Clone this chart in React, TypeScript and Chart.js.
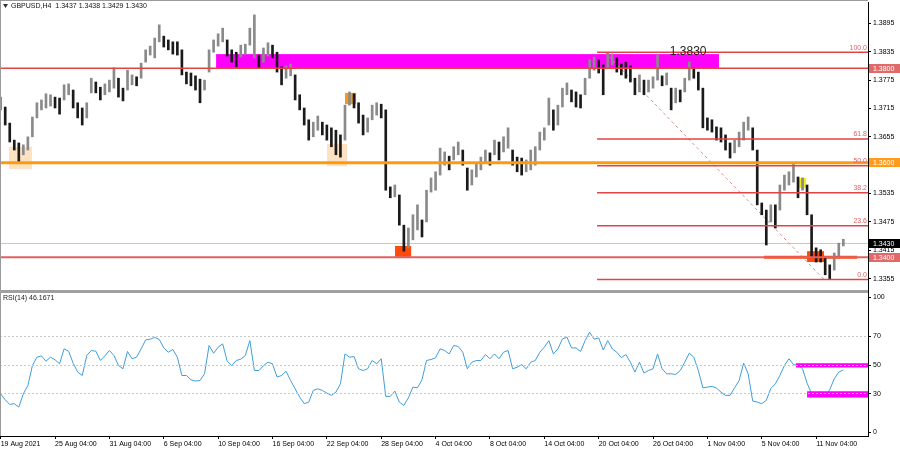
import { useEffect, useRef } from 'react';
import { Chart, registerables } from 'chart.js';

Chart.register(...registerables);

const FONT = "'Liberation Sans', Arial, sans-serif";

// ---- data (one sample per 2 H4 bars, 19 Aug – 12 Nov 2021) ----
const highs = [
  1.3739, 1.3718, 1.3684, 1.3648, 1.3642, 1.3638, 1.3655, 1.3697, 1.3727, 1.3733,
  1.3746, 1.3744, 1.3739, 1.3737, 1.3765, 1.3767, 1.3754, 1.3727, 1.3716, 1.3727,
  1.3779, 1.3771, 1.3760, 1.3767, 1.3775, 1.3801, 1.3779, 1.3758, 1.3796, 1.3786,
  1.3782, 1.3811, 1.3839, 1.3847, 1.3864, 1.3892, 1.3868, 1.3860, 1.3856, 1.3856,
  1.3839, 1.3792, 1.3790, 1.3784, 1.3777, 1.3775, 1.3839, 1.3860, 1.3873, 1.3885,
  1.3860, 1.3839, 1.3834, 1.3849, 1.3851, 1.3885, 1.3913, 1.3828, 1.3843, 1.3854,
  1.3849, 1.3834, 1.3803, 1.3805, 1.3809, 1.3786, 1.3744, 1.3716, 1.3691, 1.3686,
  1.3699, 1.3686, 1.3680, 1.3674, 1.3669, 1.3659, 1.3722, 1.3750, 1.3746, 1.3727,
  1.3701, 1.3695, 1.3722, 1.3727, 1.3724, 1.3712, 1.3549, 1.3553, 1.3532, 1.3468,
  1.3462, 1.3490, 1.3511, 1.3479, 1.3542, 1.3568, 1.3581, 1.3631, 1.3623, 1.3614,
  1.3634, 1.3644, 1.3627, 1.3589, 1.3585, 1.3600, 1.3612, 1.3627, 1.3621, 1.3648,
  1.3644, 1.3655, 1.3674, 1.3627, 1.3612, 1.3610, 1.3606, 1.3627, 1.3634, 1.3665,
  1.3674, 1.3737, 1.3712, 1.3722, 1.3758, 1.3769, 1.3754, 1.3750, 1.3744, 1.3779,
  1.3818, 1.3824, 1.3818, 1.3807, 1.3834, 1.3830, 1.3822, 1.3809, 1.3813, 1.3805,
  1.3779, 1.3786, 1.3775, 1.3775, 1.3782, 1.3828, 1.3784, 1.3790, 1.3758, 1.3758,
  1.3754, 1.3779, 1.3813, 1.3801, 1.3792, 1.3758, 1.3695, 1.3691, 1.3676, 1.3674,
  1.3659, 1.3642, 1.3648, 1.3665, 1.3686, 1.3697, 1.3674, 1.3627, 1.3515, 1.3500,
  1.3511, 1.3511, 1.3553, 1.3574, 1.3581, 1.3600, 1.3570, 1.3568, 1.3553, 1.3490,
  1.3420, 1.3416, 1.3399, 1.3384, 1.3409, 1.3430, 1.3438,
];
const lows = [
  1.3712, 1.3680, 1.3644, 1.3627, 1.3602, 1.3617, 1.3627, 1.3655, 1.3695, 1.3712,
  1.3716, 1.3720, 1.3716, 1.3703, 1.3733, 1.3744, 1.3716, 1.3695, 1.3680, 1.3695,
  1.3748, 1.3748, 1.3733, 1.3744, 1.3750, 1.3758, 1.3739, 1.3731, 1.3754, 1.3765,
  1.3763, 1.3779, 1.3813, 1.3828, 1.3822, 1.3856, 1.3845, 1.3839, 1.3830, 1.3828,
  1.3786, 1.3767, 1.3763, 1.3754, 1.3727, 1.3754, 1.3792, 1.3834, 1.3847, 1.3856,
  1.3826, 1.3813, 1.3803, 1.3824, 1.3830, 1.3849, 1.3822, 1.3801, 1.3813, 1.3826,
  1.3822, 1.3792, 1.3765, 1.3779, 1.3784, 1.3733, 1.3712, 1.3680, 1.3648, 1.3655,
  1.3669, 1.3659, 1.3648, 1.3634, 1.3617, 1.3612, 1.3648, 1.3722, 1.3716, 1.3684,
  1.3659, 1.3665, 1.3691, 1.3701, 1.3695, 1.3542, 1.3526, 1.3528, 1.3468, 1.3413,
  1.3420, 1.3437, 1.3458, 1.3443, 1.3475, 1.3538, 1.3542, 1.3574, 1.3595, 1.3585,
  1.3606, 1.3617, 1.3595, 1.3542, 1.3553, 1.3570, 1.3585, 1.3602, 1.3595, 1.3617,
  1.3606, 1.3623, 1.3631, 1.3595, 1.3581, 1.3574, 1.3581, 1.3585, 1.3595, 1.3627,
  1.3648, 1.3680, 1.3669, 1.3680, 1.3718, 1.3744, 1.3729, 1.3718, 1.3716, 1.3744,
  1.3779, 1.3796, 1.3790, 1.3744, 1.3801, 1.3807, 1.3792, 1.3786, 1.3779, 1.3771,
  1.3744, 1.3750, 1.3744, 1.3750, 1.3758, 1.3775, 1.3763, 1.3765, 1.3712, 1.3727,
  1.3729, 1.3750, 1.3775, 1.3779, 1.3754, 1.3674, 1.3669, 1.3665, 1.3648, 1.3644,
  1.3627, 1.3610, 1.3621, 1.3634, 1.3648, 1.3669, 1.3627, 1.3511, 1.3490, 1.3426,
  1.3475, 1.3462, 1.3500, 1.3542, 1.3553, 1.3559, 1.3526, 1.3542, 1.3490, 1.3399,
  1.3390, 1.3390, 1.3363, 1.3353, 1.3373, 1.3403, 1.3424,
];
const rsi = [
  29.5, 25.3, 22.1, 22.6, 20.2, 29.5, 35.3, 49.3, 55.1, 56.0,
  52.3, 55.1, 53.3, 50.5, 60.9, 59.3, 50.9, 44.7, 42.3, 56.3,
  59.8, 59.3, 52.8, 56.0, 59.8, 56.3, 49.3, 47.0, 59.1, 54.0,
  55.1, 60.9, 67.2, 67.7, 69.0, 67.5, 61.6, 58.6, 60.5, 55.1,
  42.3, 42.3, 39.3, 38.4, 38.8, 43.5, 63.3, 57.9, 62.1, 64.4,
  52.3, 49.3, 52.8, 53.7, 56.3, 66.7, 45.8, 45.8, 49.1, 51.6,
  50.5, 41.2, 42.3, 45.3, 38.8, 33.0, 27.2, 22.6, 23.7, 31.9,
  33.0, 31.9, 30.0, 28.4, 30.7, 36.5, 57.4, 55.1, 55.6, 47.0,
  45.8, 47.0, 52.8, 50.5, 54.0, 27.7, 27.7, 31.4, 23.7, 21.4,
  26.7, 34.2, 33.7, 39.3, 52.8, 53.5, 54.7, 60.9, 59.8, 57.4,
  63.3, 62.6, 58.6, 47.0, 51.6, 52.8, 52.8, 57.0, 54.0, 57.4,
  54.0, 58.6, 59.8, 47.0, 48.1, 50.0, 47.0, 51.6, 52.8, 58.6,
  62.1, 66.7, 57.4, 60.9, 67.9, 69.1, 61.6, 61.6, 59.1, 66.7,
  72.6, 67.7, 68.6, 60.2, 66.7, 60.9, 58.6, 54.7, 57.0, 51.6,
  44.7, 51.6, 44.0, 45.8, 47.0, 57.4, 47.0, 43.5, 43.5, 43.0,
  45.8, 51.6, 57.9, 55.1, 45.8, 33.7, 34.2, 34.7, 33.5, 30.7,
  28.4, 28.4, 33.7, 38.8, 50.9, 43.5, 24.4, 23.7, 22.6, 24.9,
  33.3, 36.5, 42.3, 49.3, 54.0, 50.0, 49.3, 47.0, 37.0, 29.5,
  30.0, 30.7, 28.4, 32.3, 40.0, 44.7, 46.2,
];

const priceTicks = [1.3895, 1.3835, 1.3775, 1.3715, 1.3655, 1.3595, 1.3535, 1.3475, 1.3415, 1.3355];
const priceTagValues = [1.38, 1.36, 1.343, 1.34];
const xTickBars = [1, 25, 49, 73, 97, 121, 145, 169, 193, 217, 241, 265, 289, 313, 337, 361];
const xTickLabels = [
  '19 Aug 2021', '25 Aug 04:00', '31 Aug 04:00', '6 Sep 04:00', '10 Sep 04:00', '16 Sep 04:00',
  '22 Sep 04:00', '28 Sep 04:00', '4 Oct 04:00', '8 Oct 04:00', '14 Oct 04:00', '20 Oct 04:00',
  '26 Oct 04:00', '1 Nov 04:00', '5 Nov 04:00', '11 Nov 04:00',
];
const rsiTicks = [100, 70, 50, 30, 0];
const rsiLevels = [70, 50, 30];

// annotations (bar index / price units)
const levelLines = [1.38, 1.36, 1.34];
const bidLevel = 1.343;
const magentaZone = { fromBar: 96.1, toBar: 318.1, low: 1.38, high: 1.383 };
const peachZones = [
  { fromBar: 4.7, toBar: 14.8, low: 1.3587, high: 1.3634 },
  { fromBar: 145.1, toBar: 153.9, low: 1.3593, high: 1.364 },
];
const orangeZone = { fromBar: 153.0, toBar: 157.9, low: 1.3724, high: 1.3748 };
const redZones = [
  { fromBar: 175.1, toBar: 182.2, low: 1.3401, high: 1.3424 },
  { fromBar: 357.0, toBar: 364.5, low: 1.339, high: 1.3413 },
];
const yellowZone = { fromBar: 352.6, toBar: 356.6, low: 1.3547, high: 1.3568 };
const supportSegment = { fromBar: 338.0, toBar: 379.1, level: 1.34 };
const trendDiagonal = { fromBar: 267.8, from: 1.3834, toBar: 364.5, to: 1.3353 };
const fibLow = 1.3353;
const fibHigh = 1.3834;
const fibStartBar = 264.3;
const fibLevels = [0, 23.6, 38.2, 50, 61.8, 100];
const peakLabel = { bar: 304.5, price: 1.3828, text: '1.3830' };
const rsiZones = [
  { fromBar: 352.1, low: 47.9, high: 50.9 },
  { fromBar: 357.0, low: 26.9, high: 31.3 },
];
const titleText = 'GBPUSD,H4  1.3437 1.3438 1.3429 1.3430';
const rsiTitle = 'RSI(14) 46.1671';

// ---- layout / style ----
const X_MIN = 0.7;
const X_MAX = 383.9;
const Y_MIN = 1.33308;
const Y_MAX = 1.39403;
const RED = '#e24444';
const tagColors = ['#e06a6a', '#ff9c1c', '#000000', '#e06a6a'];

const clipArea = (ctx: CanvasRenderingContext2D, a: any) => {
  ctx.beginPath();
  ctx.rect(a.left, a.top, a.right - a.left, a.bottom - a.top);
  ctx.clip();
};

const crisp = (v: number) => Math.round(v) + 0.5;

const priceOverlay = {
  id: 'priceOverlay',
  beforeDatasetsDraw(chart: any) {
    const { ctx, chartArea: a, scales } = chart;
    const x = scales.x;
    const y = scales.y;
    ctx.save();
    clipArea(ctx, a);
    const box = (z: any, color: string) => {
      const x0 = x.getPixelForValue(z.fromBar);
      const x1 = x.getPixelForValue(z.toBar);
      const y0 = y.getPixelForValue(z.high);
      const y1 = y.getPixelForValue(z.low);
      ctx.fillStyle = color;
      ctx.fillRect(x0, y0, x1 - x0, y1 - y0);
    };
    peachZones.forEach((z) => box(z, '#fde2c2'));
    box(magentaZone, '#ff00ff');
    box(orangeZone, '#f39a1f');
    redZones.forEach((z) => box(z, '#ff4a0c'));
    box(yellowZone, '#f0f020');
    // support segment
    ctx.strokeStyle = '#ff4a0c';
    ctx.lineWidth = 3;
    ctx.beginPath();
    const sy = y.getPixelForValue(supportSegment.level);
    ctx.moveTo(x.getPixelForValue(supportSegment.fromBar), sy);
    ctx.lineTo(x.getPixelForValue(supportSegment.toBar), sy);
    ctx.stroke();
    // bid line
    ctx.strokeStyle = '#c8c8c8';
    ctx.lineWidth = 1;
    const by = crisp(y.getPixelForValue(bidLevel));
    ctx.beginPath();
    ctx.moveTo(a.left, by);
    ctx.lineTo(a.right, by);
    ctx.stroke();
    // dashed diagonal
    ctx.strokeStyle = '#e08a8a';
    ctx.setLineDash([3, 3]);
    ctx.beginPath();
    ctx.moveTo(x.getPixelForValue(trendDiagonal.fromBar), y.getPixelForValue(trendDiagonal.from));
    ctx.lineTo(x.getPixelForValue(trendDiagonal.toBar), y.getPixelForValue(trendDiagonal.to));
    ctx.stroke();
    ctx.restore();
  },
  afterDatasetsDraw(chart: any) {
    const { ctx, chartArea: a, scales } = chart;
    const x = scales.x;
    const y = scales.y;
    ctx.save();
    clipArea(ctx, a);
    const hline = (v: number, color: string, w: number, x0: number) => {
      ctx.strokeStyle = color;
      ctx.lineWidth = w;
      const py = y.getPixelForValue(v);
      ctx.beginPath();
      ctx.moveTo(x0, py);
      ctx.lineTo(a.right, py);
      ctx.stroke();
    };
    // fibonacci
    const fx = x.getPixelForValue(fibStartBar);
    fibLevels.forEach((lv) => hline(fibLow + ((fibHigh - fibLow) * lv) / 100, RED, 1.5, fx));
    // full-width levels
    hline(levelLines[0], RED, 1.6, a.left);
    hline(levelLines[1], '#ff9a10', 3, a.left);
    hline(levelLines[2], '#e06060', 2, a.left);
    // fib labels
    ctx.font = `7px ${FONT}`;
    ctx.fillStyle = '#e06464';
    ctx.textAlign = 'right';
    ctx.textBaseline = 'bottom';
    fibLevels.forEach((lv) => {
      const py = y.getPixelForValue(fibLow + ((fibHigh - fibLow) * lv) / 100);
      ctx.fillText(lv.toFixed(1), a.right - 1, py - 1);
    });
    // peak label
    ctx.font = `12px ${FONT}`;
    ctx.fillStyle = '#222';
    ctx.textAlign = 'center';
    ctx.textBaseline = 'alphabetic';
    ctx.fillText(peakLabel.text, x.getPixelForValue(peakLabel.bar), y.getPixelForValue(peakLabel.price));
    ctx.restore();
  },
  afterDraw(chart: any) {
    const { ctx, chartArea: a, scales } = chart;
    const y = scales.y;
    ctx.save();
    // right tags
    ctx.font = `7px ${FONT}`;
    ctx.textAlign = 'left';
    ctx.textBaseline = 'middle';
    priceTagValues.forEach((v, i) => {
      const py = y.getPixelForValue(v);
      ctx.fillStyle = tagColors[i];
      ctx.fillRect(a.right + 1, Math.round(py - 4.5), 31, 9);
      ctx.fillStyle = '#fff';
      ctx.fillText(v.toFixed(4), a.right + 5, py + 0.5);
    });
    // frame
    ctx.strokeStyle = '#9a9a9a';
    ctx.lineWidth = 1;
    ctx.beginPath();
    ctx.moveTo(0.5, 0);
    ctx.lineTo(0.5, a.bottom);
    ctx.moveTo(0, 0.5);
    ctx.lineTo(a.right, 0.5);
    ctx.stroke();
    // title
    ctx.fillStyle = '#333';
    ctx.beginPath();
    ctx.moveTo(3, 4);
    ctx.lineTo(8, 4);
    ctx.lineTo(5.5, 8);
    ctx.closePath();
    ctx.fill();
    ctx.fillStyle = '#111';
    ctx.font = `7px ${FONT}`;
    ctx.textAlign = 'left';
    ctx.textBaseline = 'middle';
    ctx.fillText(titleText, 11, 6.5);
    ctx.restore();
  },
};

const rsiOverlay = {
  id: 'rsiOverlay',
  afterDatasetsDraw(chart: any) {
    const { ctx, chartArea: a, scales } = chart;
    const x = scales.x;
    const y = scales.y;
    ctx.save();
    clipArea(ctx, a);
    rsiZones.forEach((z) => {
      const x0 = x.getPixelForValue(z.fromBar);
      const y0 = y.getPixelForValue(z.high);
      const y1 = y.getPixelForValue(z.low);
      ctx.fillStyle = '#ff00ff';
      ctx.fillRect(x0, y0, a.right - x0, y1 - y0);
    });
    ctx.strokeStyle = '#c8c8c8';
    ctx.lineWidth = 1;
    ctx.setLineDash([2, 2]);
    rsiLevels.forEach((lv) => {
      const py = crisp(y.getPixelForValue(lv));
      ctx.beginPath();
      ctx.moveTo(a.left, py);
      ctx.lineTo(a.right, py);
      ctx.stroke();
    });
    ctx.restore();
  },
  afterDraw(chart: any) {
    const { ctx, chartArea: a, scales } = chart;
    const y = scales.y;
    ctx.save();
    ctx.font = `7px ${FONT}`;
    ctx.fillStyle = '#000';
    ctx.strokeStyle = '#000';
    ctx.lineWidth = 1;
    ctx.textAlign = 'left';
    ctx.textBaseline = 'middle';
    rsiTicks.forEach((v) => {
      const py = Math.min(Math.max(y.getPixelForValue(v), a.top + 4), a.bottom - 4);
      ctx.beginPath();
      ctx.moveTo(a.right, crisp(py));
      ctx.lineTo(a.right + 3, crisp(py));
      ctx.stroke();
      ctx.fillText(String(v), a.right + 5, py + 0.5);
    });
    ctx.fillStyle = '#222';
    ctx.fillText(rsiTitle, 3, 5.5);
    ctx.strokeStyle = '#9a9a9a';
    ctx.beginPath();
    ctx.moveTo(0.5, 0);
    ctx.lineTo(0.5, a.bottom);
    ctx.stroke();
    ctx.restore();
  },
};

function PriceChart() {
  const ref = useRef<HTMLCanvasElement>(null);
  useEffect(() => {
    const canvas = ref.current as HTMLCanvasElement;
    const barData = highs.map((h, i) => ({ x: 2 * i + 1, y: [lows[i], h] }));
    const colors = highs.map((h, i) => {
      const mid = (h + lows[i]) / 2;
      const prev = i > 0 ? (highs[i - 1] + lows[i - 1]) / 2 : mid;
      return mid >= prev ? '#8a8a8a' : '#1a1a1a';
    });
    const chart = new Chart(canvas, {
      type: 'bar',
      data: {
        datasets: [
          { data: barData as any, backgroundColor: colors, borderWidth: 0, barThickness: 2 } as any,
        ],
      },
      options: {
        animation: false,
        responsive: false,
        devicePixelRatio: 1,
        events: [],
        layout: { padding: { top: 2, left: 0, right: 0, bottom: 0 } },
        plugins: { legend: { display: false }, tooltip: { enabled: false } },
        scales: {
          x: {
            type: 'linear',
            min: X_MIN,
            max: X_MAX,
            offset: false,
            display: false,
            grid: { offset: false },
            afterFit: (s: any) => { s.paddingLeft = 0; s.paddingRight = 0; },
          },
          y: {
            type: 'linear',
            position: 'right',
            min: Y_MIN,
            max: Y_MAX,
            beginAtZero: false,
            afterFit: (s: any) => { s.width = 32; s.paddingTop = 0; s.paddingBottom = 0; },
            afterBuildTicks: (s: any) => { s.ticks = priceTicks.map((v) => ({ value: v })); },
            ticks: {
              callback: (v: any) => Number(v).toFixed(4),
              font: { family: FONT, size: 7 },
              color: '#000',
              padding: 2,
            },
            grid: { drawOnChartArea: false, tickLength: 3, tickColor: '#000' },
            border: { color: '#000' },
          },
        },
      } as any,
      plugins: [priceOverlay],
    });
    return () => chart.destroy();
  }, []);
  return (
    <canvas
      ref={ref}
      width={900}
      height={290}
      style={{ position: 'absolute', left: 0, top: 0, width: 900, height: 290 }}
    />
  );
}

function RsiChart() {
  const ref = useRef<HTMLCanvasElement>(null);
  useEffect(() => {
    const canvas = ref.current as HTMLCanvasElement;
    const chart = new Chart(canvas, {
      type: 'line',
      data: {
        datasets: [
          {
            data: rsi.map((v, i) => ({ x: 2 * i + 1, y: v })) as any,
            borderColor: '#3f9ddb',
            borderWidth: 1,
            pointRadius: 0,
            tension: 0,
          },
        ],
      },
      options: {
        animation: false,
        responsive: false,
        devicePixelRatio: 1,
        events: [],
        layout: { padding: 0 },
        plugins: { legend: { display: false }, tooltip: { enabled: false } },
        scales: {
          x: {
            type: 'linear',
            position: 'bottom',
            min: X_MIN,
            max: X_MAX,
            offset: false,
            afterFit: (s: any) => { s.height = 14; s.paddingLeft = 0; s.paddingRight = 0; },
            afterBuildTicks: (s: any) => { s.ticks = xTickBars.map((v) => ({ value: v })); },
            ticks: {
              callback: (_v: any, i: number) => xTickLabels[i],
              align: 'start',
              autoSkip: false,
              maxRotation: 0,
              minRotation: 0,
              font: { family: FONT, size: 7 },
              color: '#000',
              padding: 1,
            },
            grid: { drawOnChartArea: false, tickLength: 3, tickColor: '#000' },
            border: { color: '#000' },
          },
          y: {
            type: 'linear',
            position: 'right',
            min: 0,
            max: 100,
            afterFit: (s: any) => { s.width = 32; s.paddingTop = 0; s.paddingBottom = 0; },
            ticks: { display: false },
            grid: { display: false },
            border: { color: '#000' },
          },
        },
      } as any,
      plugins: [rsiOverlay],
    });
    return () => chart.destroy();
  }, []);
  return (
    <canvas
      ref={ref}
      width={900}
      height={157}
      style={{ position: 'absolute', left: 0, top: 293, width: 900, height: 157 }}
    />
  );
}

export default function App() {
  return (
    <div
      style={{
        position: 'absolute',
        left: 0,
        top: 0,
        width: 900,
        height: 450,
        background: '#fff',
        overflow: 'hidden',
      }}
    >
      <PriceChart />
      <div style={{ position: 'absolute', left: 0, top: 290, width: 868, height: 3, background: '#a0a0a0' }} />
      <div style={{ position: 'absolute', left: 868, top: 290, width: 1, height: 3, background: '#000' }} />
      <RsiChart />
    </div>
  );
}
